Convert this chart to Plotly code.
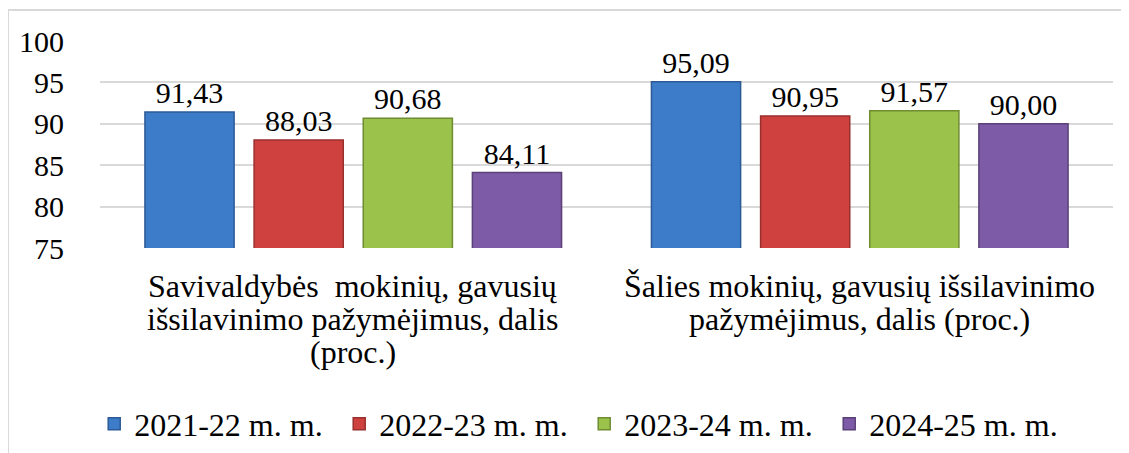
import plotly.graph_objects as go

# category keys and their (multi-line) labels
categories = ["Savivaldybės", "Šalies"]
category_lines = [
    ["Savivaldybės\u00a0\u00a0mokinių, gavusių", "išsilavinimo pažymėjimus, dalis", "(proc.)"],
    ["Šalies mokinių, gavusių išsilavinimo", "pažymėjimus, dalis (proc.)"],
]

# one series per school year
series_names = ["2021-22 m. m.", "2022-23 m. m.", "2023-24 m. m.", "2024-25 m. m."]
values_2021 = [91.43, 95.09]
values_2022 = [88.03, 90.95]
values_2023 = [90.68, 91.57]
values_2024 = [84.11, 90.00]

y_ticks = [75, 80, 85, 90, 95, 100]

colors = ["#3D7CC9", "#CF413E", "#9BC24A", "#7D5BA6"]
edges = ["#2B5A94", "#98302E", "#6F8C33", "#5A4178"]

FONT = "Times New Roman, Liberation Serif, DejaVu Serif, serif"

fig = go.Figure()
for name, vals, col, edge in zip(series_names,
                                 [values_2021, values_2022, values_2023, values_2024],
                                 colors, edges):
    fig.add_trace(go.Bar(
        x=categories, y=vals, name=name,
        marker=dict(color=col, line=dict(color=edge, width=1.5)),
        text=[f"{v:.2f}".replace(".", ",") for v in vals],
        textposition="outside", cliponaxis=False,
        textfont=dict(family=FONT, size=30, color="black"),
    ))

# category labels: tighter line spacing than plotly's <br> gives
for cat, lines in zip(categories, category_lines):
    for i, line in enumerate(lines):
        fig.add_annotation(x=cat, xref="x", y=0, yref="paper", yanchor="middle",
                           yshift=-38 - 33 * i, text=line, showarrow=False,
                           font=dict(family=FONT, size=32, color="black"))

# page body has an 8px margin, so the figure is drawn 8px smaller than the window
fig.update_layout(
    width=1121, height=445,
    margin=dict(l=92, r=16, t=33, b=205, autoexpand=False),
    paper_bgcolor="white", plot_bgcolor="white",
    barmode="group", bargap=0.138, bargroupgap=0.183,
    font=dict(family=FONT, size=30, color="black"),
    showlegend=True,
    legend=dict(orientation="h", x=0.478, xanchor="center", y=-0.85, yanchor="middle",
                entrywidth=200, entrywidthmode="pixels",
                font=dict(family=FONT, size=32), traceorder="normal"),
)
fig.update_yaxes(range=[75, 100], tickvals=y_ticks, showgrid=True, gridcolor="#D9D9D9",
                 gridwidth=2, zeroline=False, showline=False, ticks="", ticklabelstandoff=35,
                 automargin=False, tickfont=dict(family=FONT, size=30))
fig.update_xaxes(showline=False, ticks="", showticklabels=False, automargin=False)

# light outer frame like the source chart
fig.add_shape(type="rect", xref="paper", yref="paper", x0=-0.0908, x1=1.03, y0=-1.05, y1=1.1498,
              line=dict(color="#D9D9D9", width=2), fillcolor="rgba(0,0,0,0)", layer="below")

fig.write_html("out.html")
